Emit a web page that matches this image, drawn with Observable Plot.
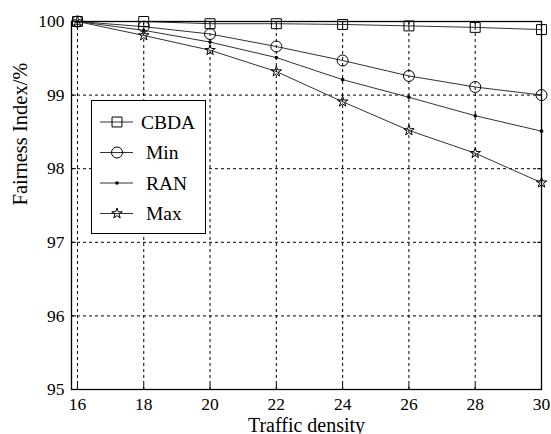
<!DOCTYPE html>
<html>
<head>
<meta charset="utf-8">
<script src="https://cdn.jsdelivr.net/npm/d3@7"></script>
<script src="https://cdn.jsdelivr.net/npm/@observablehq/plot@0.6"></script>
<style>
  html, body { margin: 0; padding: 0; background: #fff; }
  #chart { width: 551px; height: 434px; }
</style>
</head>
<body>
<div id="chart"></div>
<script>
// ---- Data ----
const density = [16, 18, 20, 22, 24, 26, 28, 30];
const cbda = [100, 100.0, 99.97, 99.97, 99.96, 99.94, 99.92, 99.89];
const minV = [100, 99.93, 99.83, 99.66, 99.47, 99.26, 99.11, 99.0];
const ran  = [100, 99.88, 99.72, 99.51, 99.21, 98.97, 98.72, 98.51];
const maxV = [100, 99.81, 99.61, 99.32, 98.91, 98.52, 98.21, 97.81];
const seriesNames = ["CBDA", "Min", "RAN", "Max"];
const xTicks = [16, 18, 20, 22, 24, 26, 28, 30];
const yTicks = [95, 96, 97, 98, 99, 100];
const xLabel = "Traffic density";
const yLabel = "Fairness Index/%";

const seriesValues = {CBDA: cbda, Min: minV, RAN: ran, Max: maxV};
const rows = seriesNames.flatMap(s => density.map((d, i) => ({series: s, x: d, y: seriesValues[s][i]})));
const bySeries = s => rows.filter(r => r.series === s);

const lineColor = "#333";
const serif = "Liberation Serif, Times New Roman, serif";
const dash = "3,3";
const fmt = d => String(d);

const plot = Plot.plot({
  width: 551,
  height: 434,
  marginLeft: 71,
  marginRight: 10,
  marginTop: 21,
  marginBottom: 45,
  style: {fontFamily: serif, fontSize: "17.5px", color: "#000", background: "#fff"},
  x: {domain: [15.82, 30], ticks: xTicks},
  y: {domain: [95, 100], ticks: yTicks},
  marks: [
    Plot.gridX(xTicks, {stroke: "#000", strokeOpacity: 1, strokeDasharray: dash, strokeWidth: 1}),
    Plot.gridY(yTicks, {stroke: "#000", strokeOpacity: 1, strokeDasharray: dash, strokeWidth: 1}),
    // inward ticks on all sides
    Plot.axisX(xTicks, {anchor: "bottom", tickSize: -5, tickFormat: () => "", label: null}),
    Plot.axisX(xTicks, {anchor: "top", tickSize: -5, tickFormat: () => "", label: null}),
    Plot.axisY(yTicks, {anchor: "left", tickSize: -5, tickFormat: () => "", label: null}),
    Plot.axisY(yTicks, {anchor: "right", tickSize: -5, tickFormat: () => "", label: null}),
    // tick labels
    Plot.axisX(xTicks, {anchor: "bottom", tickSize: 0, tickPadding: 8, label: null, fontSize: 17.5, tickFormat: fmt}),
    Plot.axisY(yTicks, {anchor: "left", tickSize: 0, tickPadding: 7, label: null, fontSize: 17.5, tickFormat: fmt}),
    // axis titles
    Plot.text([xLabel], {frameAnchor: "bottom", dy: 42, fontSize: 20, lineAnchor: "bottom", fill: "#000"}),
    Plot.text([yLabel], {frameAnchor: "left", dx: -51, rotate: -90, fontSize: 20.5, fill: "#000"}),
    // series lines
    ...seriesNames.map(s => Plot.line(bySeries(s), {x: "x", y: "y", stroke: lineColor, strokeWidth: 1})),
    // markers
    Plot.dot(bySeries("CBDA"), {x: "x", y: "y", symbol: "square", r: 5.6, stroke: "#000", fill: "none", strokeWidth: 1}),
    Plot.dot(bySeries("Min"), {x: "x", y: "y", symbol: "circle", r: 5.5, stroke: "#000", fill: "none", strokeWidth: 1}),
    Plot.dot(bySeries("RAN"), {x: "x", y: "y", symbol: "circle", r: 1.8, stroke: "none", fill: "#000"}),
    Plot.dot(bySeries("Max"), {x: "x", y: "y", symbol: "star", r: 3.3, stroke: "#000", fill: "none", strokeWidth: 1}),
    Plot.frame({stroke: "#000", strokeWidth: 1.3})
  ]
});

// ---- Legend (drawn into the same SVG) ----
const svg = d3.select(plot);
const legend = svg.append("g").attr("font-family", serif).attr("font-size", 19.5).attr("text-anchor", "start");
const lx = 91.5, ly = 100.5, lw = 114, lh = 133;
legend.append("rect").attr("x", lx).attr("y", ly).attr("width", lw).attr("height", lh)
  .attr("fill", "#fff").attr("stroke", "#000").attr("stroke-width", 1);
const symbolOf = {
  CBDA: d3.symbol(d3.symbolSquare, Math.PI * 5.6 * 5.6),
  Min: d3.symbol(d3.symbolCircle, Math.PI * 5.5 * 5.5),
  RAN: d3.symbol(d3.symbolCircle, Math.PI * 1.8 * 1.8),
  Max: d3.symbol(d3.symbolStar, Math.PI * 3.3 * 3.3)
};
seriesNames.forEach((s, i) => {
  const cy = 122 + i * 30.5;
  const g = legend.append("g");
  g.append("line").attr("x1", 100).attr("x2", 133).attr("y1", cy).attr("y2", cy)
    .attr("stroke", lineColor).attr("stroke-width", 1);
  const filled = s === "RAN";
  g.append("path").attr("d", symbolOf[s]()).attr("transform", `translate(117,${cy})`)
    .attr("fill", filled ? "#000" : "none").attr("stroke", filled ? "none" : "#000").attr("stroke-width", 1);
  g.append("text").attr("x", 141 + (i === 0 ? 0 : 5)).attr("y", cy).attr("dy", "0.35em").attr("fill", "#000").text(s);
});

document.getElementById("chart").appendChild(plot);
</script>
</body>
</html>
